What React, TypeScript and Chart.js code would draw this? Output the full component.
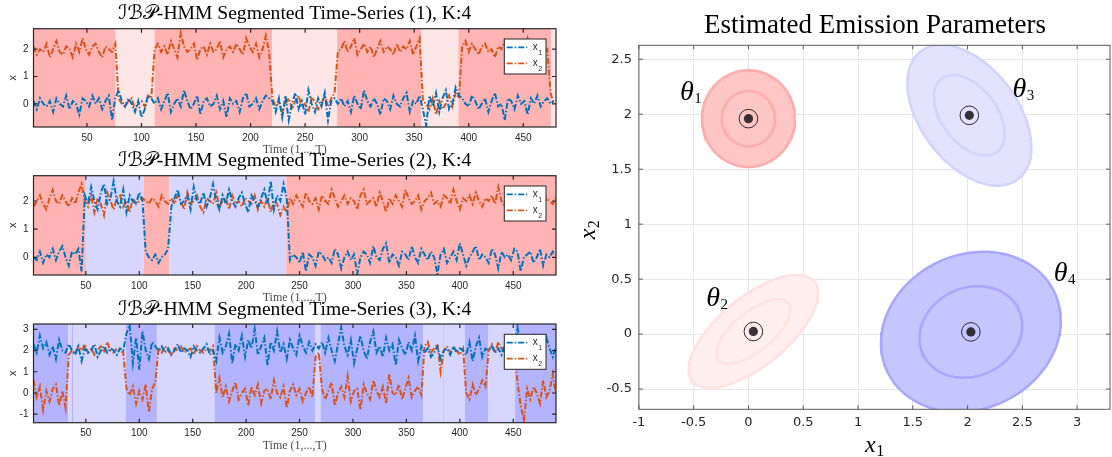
import React, { useEffect, useRef } from "react";
import { Chart, registerables } from "chart.js";
Chart.register(...registerables);

const PAGE_W = 1112;
const PAGE_H = 457;
const SANS = '"Liberation Sans", Arial, sans-serif';
const SANS2 = '"DejaVu Sans", sans-serif';
const SERIF = '"Liberation Serif", "DejaVu Serif", "DejaVu Sans", serif';

const X1_COLOR = "#0072BD";
const X2_COLOR = "#D95319";
const STATE_BG = ["#FFB3B3", "#FFE6E6", "#D6D6FF", "#B3B3FF"];
const SERIES_LABELS = ["x", "x"];
const SERIES_SUBS = ["1", "2"];
const PANEL_TITLES = [
  "ℐℬ𝒫-HMM Segmented Time-Series (1), K:4",
  "ℐℬ𝒫-HMM Segmented Time-Series (2), K:4",
  "ℐℬ𝒫-HMM Segmented Time-Series (3), K:4",
];
const TIME_LABEL = "Time (1,...,T)";
const Y_LABEL = "x";

// sampled every SAMPLE_STEP time steps starting at t = 1
const SAMPLE_STEP = 3;

// ---------- Time series 1 ----------
const P1_T_MAX = 480;
const P1_Y_RANGE = [-0.85, 2.75];
const P1_X1 = [
  0.1,-0.2,0.2,0.0,-0.1,0.1,-0.3,0.2,0.0,-0.1,0.3,-0.2,0.1,0.0,-0.4,0.2,0.1,-0.1,0.3,0.0,0.2,-0.2,0.1,0.3,-0.6,0.2,
  0.5,0.1,-0.1,0.2,0.0,-0.3,0.1,-0.5,-0.2,0.3,0.2,
  0.0,0.2,-0.2,0.1,0.4,-0.3,0.0,0.2,-0.1,0.5,0.1,-0.2,0.0,0.3,-0.4,0.1,0.2,-0.1,0.0,0.3,-0.2,0.1,-0.5,0.2,0.0,0.1,-0.3,0.2,0.4,-0.1,0.0,0.2,-0.2,0.1,0.3,0.2,
  0.1,-0.3,0.2,-0.5,0.3,-0.6,0.0,0.4,-0.2,0.1,-0.4,0.5,0.0,-0.3,0.2,-0.1,0.4,-0.6,0.1,0.2,
  0.0,0.2,-0.1,0.1,-0.3,0.3,0.0,-0.2,0.5,0.1,-0.1,0.2,0.0,-0.4,0.2,0.1,-0.2,0.3,0.0,-0.1,0.2,0.4,-0.3,0.1,0.0,0.3,
  -0.2,-0.8,0.3,-0.1,0.4,-0.3,0.2,0.5,-0.2,0.0,0.6,0.3,
  0.2,0.0,-0.1,0.3,0.1,-0.2,0.0,0.2,-0.3,0.1,0.4,-0.1,0.0,-0.6,0.2,0.1,-0.2,0.3,0.0,0.1,-0.4,0.2,0.0,0.3,-0.1,0.1,0.2,0.0,
  0.1,
];
const P1_X2 = [
  2.1,1.8,2.0,1.9,2.2,1.7,2.0,2.3,1.9,1.8,2.1,2.0,1.7,2.2,1.9,2.4,2.0,1.8,2.1,2.2,1.9,1.7,2.1,2.0,1.9,2.2,
  0.2,0.0,-0.1,0.1,0.2,-0.2,0.0,0.1,-0.1,0.3,0.2,
  2.0,2.2,1.9,2.1,1.8,2.3,2.0,1.7,2.6,2.1,1.9,2.0,2.2,1.6,2.0,2.1,1.8,2.2,1.9,2.0,2.3,1.7,2.0,2.1,1.9,2.2,2.0,1.8,2.4,2.1,1.9,2.2,1.7,2.0,2.5,1.9,
  0.2,-0.1,0.1,-0.3,0.0,0.2,-0.2,0.1,0.3,-0.1,0.0,-0.3,0.2,0.1,-0.2,0.0,0.3,-0.1,0.2,0.4,
  1.9,2.0,2.3,1.9,2.1,2.4,1.8,2.0,2.2,1.9,2.1,1.7,2.0,2.3,1.9,2.1,2.0,1.8,2.2,1.9,2.1,2.0,2.3,1.8,2.1,2.4,
  0.1,0.0,-0.2,0.2,-0.4,0.1,-0.2,0.0,0.3,-0.1,0.4,0.2,
  2.1,2.3,1.9,2.2,2.0,1.8,2.1,2.2,1.9,2.0,1.7,2.1,2.0,2.3,1.9,2.1,1.6,2.0,2.2,1.9,2.4,2.0,1.8,2.1,2.2,1.9,2.0,0.4,
  0.0,
];
const P1_SEG_START = [1, 76.2, 112, 219.8, 279.3, 356.5, 390.5, 475.5];
const P1_SEG_STATE = [0, 1, 0, 1, 0, 1, 0, 1];

// ---------- Time series 2 ----------
const P2_T_MAX = 490;
const P2_Y_RANGE = [-0.63, 2.9];
const P2_X1 = [
  0.0,-0.1,0.2,-0.2,0.1,0.0,0.3,-0.1,0.2,0.4,0.0,-0.3,0.2,0.1,0.3,-0.5,
  2.2,1.9,2.5,2.0,1.7,2.3,2.6,1.9,2.1,2.7,2.0,1.8,2.4,1.6,2.2,2.0,1.9,2.3,2.0,
  0.2,0.0,-0.1,0.1,-0.2,0.0,0.1,0.3,
  1.8,2.1,2.4,1.9,2.0,2.2,1.7,2.5,2.0,1.9,2.3,1.8,2.1,2.6,2.0,1.7,2.2,1.9,2.4,2.0,1.8,2.1,2.3,1.9,1.6,2.2,2.0,1.8,2.1,2.4,1.9,2.7,1.7,2.2,2.0,2.6,2.1,
  -0.1,0.1,0.0,-0.2,0.2,-0.5,0.1,0.0,-0.3,0.2,0.1,-0.1,0.0,-0.2,0.3,0.1,-0.4,0.0,0.2,-0.1,
  0.1,-0.6,0.0,0.2,0.1,-0.2,0.4,0.0,-0.1,0.3,0.5,-0.2,0.1,0.0,-0.3,0.2,0.1,-0.1,0.4,0.0,
  -0.2,0.3,0.1,-0.1,0.2,0.0,-0.6,0.1,0.3,-0.2,0.0,0.2,-0.1,0.5,0.1,-0.3,0.0,0.2,0.4,-0.1,
  0.1,0.0,-0.2,0.3,0.1,-0.4,0.2,0.0,0.1,-0.1,0.3,0.2,-0.5,0.0,0.1,0.2,-0.2,0.0,0.3,-0.3,
  0.1,0.0,0.2,0.1,
];
const P2_X2 = [
  1.8,2.0,2.2,1.9,1.7,2.1,2.4,2.0,1.9,2.2,2.0,1.8,2.1,1.9,2.3,2.6,
  2.0,1.8,2.2,1.6,2.1,1.9,1.5,2.3,2.0,1.7,2.1,2.2,1.8,2.0,1.6,2.1,1.9,2.0,2.1,
  2.0,1.9,2.1,2.0,1.8,2.2,2.0,1.9,
  2.1,1.9,2.2,2.0,1.7,2.3,1.9,2.0,2.2,1.8,1.6,2.1,2.0,1.9,2.3,1.8,2.0,2.1,1.7,2.2,1.9,2.0,1.8,2.1,2.0,1.9,2.2,1.7,2.0,1.8,2.1,1.6,2.0,1.9,1.5,1.8,1.6,
  2.1,1.9,2.2,2.0,1.8,2.3,2.0,1.9,2.1,1.7,2.2,2.0,1.9,2.4,2.1,1.8,2.0,2.2,1.9,2.1,
  2.0,1.7,2.2,2.4,1.9,2.0,2.1,1.8,2.3,2.0,1.6,2.1,1.9,2.2,2.0,1.8,2.4,2.1,1.9,2.0,
  2.2,1.7,2.0,2.1,2.3,1.9,2.0,1.8,2.2,2.1,1.9,2.4,2.0,1.7,2.1,2.0,2.2,1.9,2.3,2.0,
  1.8,2.1,2.0,2.2,1.9,2.5,2.0,1.8,2.1,2.2,1.9,2.0,2.3,1.8,2.0,2.1,1.9,2.2,2.0,1.8,
  2.1,2.0,1.9,2.1,
];
const P2_SEG_START = [1, 50, 104, 128, 237.6];
const P2_SEG_STATE = [0, 2, 0, 2, 0];

// ---------- Time series 3 ----------
const P3_T_MAX = 490;
const P3_Y_RANGE = [-1.4, 3.25];
const P3_X1 = [
  2.3,1.9,2.7,2.1,2.4,1.8,2.2,1.6,2.5,2.0,1.9,
  2.3,2.0,1.8,2.2,1.5,2.1,1.9,2.0,2.3,1.7,2.0,2.2,1.9,2.1,2.0,1.8,2.1,2.0,
  2.8,3.2,1.4,2.6,1.1,2.9,2.0,1.6,2.4,2.2,
  2.0,2.2,1.9,2.1,1.8,2.0,2.3,1.9,2.1,2.0,1.7,2.2,2.0,1.9,2.1,2.3,1.8,2.0,
  1.5,2.6,1.9,2.2,2.8,1.4,2.3,2.0,2.7,1.7,2.5,2.1,3.0,1.8,2.2,2.6,1.3,2.4,2.0,2.9,1.9,2.3,1.6,2.5,2.1,1.8,2.7,2.2,1.9,2.4,2.0,2.3,
  2.1,
  2.4,1.9,2.6,2.0,1.5,2.3,3.1,2.2,1.8,2.5,1.4,2.1,2.7,2.0,1.6,2.4,2.9,1.9,2.2,1.7,2.6,2.0,2.3,1.3,2.5,2.1,1.8,2.4,2.0,2.7,1.5,2.2,
  1.9,2.1,1.7,1.9,2.2,1.6,2.0,2.1,1.8,2.2,1.9,2.1,2.0,
  1.8,2.4,1.5,2.2,2.6,1.7,2.1,
  2.0,2.2,1.9,2.1,1.8,2.3,2.0,1.9,2.1,
  3.1,2.2,1.6,2.5,2.0,2.8,1.5,2.3,1.9,2.6,2.1,1.7,2.2,
];
const P3_X2 = [
  0.6,-0.2,0.3,-0.8,0.1,-0.4,0.2,0.4,-0.6,0.1,-0.7,
  1.8,2.0,1.9,2.2,2.0,2.3,1.9,2.1,1.8,2.0,2.2,1.9,2.4,2.0,1.9,2.1,2.0,1.9,
  0.2,-0.1,0.3,-0.5,0.1,-0.3,0.4,-0.9,0.2,0.5,
  2.1,1.9,2.2,2.0,1.8,2.1,2.0,2.2,1.9,2.0,2.1,1.8,2.2,2.0,1.9,2.1,2.0,2.2,
  0.0,0.7,-0.2,0.3,-0.4,0.1,0.5,-0.3,0.0,0.2,-0.6,0.3,-0.1,0.4,-0.5,0.1,0.2,-0.3,0.6,0.0,-0.2,0.3,-0.7,0.1,0.4,-0.1,0.2,-0.4,0.0,0.3,-0.2,1.7,
  1.9,
  0.2,-0.3,0.1,0.5,-0.6,0.0,0.3,-0.2,0.8,-0.4,0.1,0.2,-0.8,0.4,0.0,-0.3,0.6,0.1,-0.2,0.3,-0.5,0.9,0.0,-0.1,0.4,-0.3,0.2,0.7,-0.2,0.1,0.3,-0.1,
  2.2,2.4,1.9,2.1,2.3,1.0,2.0,2.2,1.9,2.1,2.0,1.8,2.1,
  0.0,-0.3,0.4,-0.1,0.2,0.6,0.3,
  2.0,2.3,1.9,2.4,2.1,1.9,2.2,2.0,1.9,
  0.5,-0.6,-1.3,0.2,-0.3,0.3,0.0,-0.5,0.6,-0.2,0.1,0.9,-0.1,
];
const P3_SEG_START = [1, 33.5, 37, 38, 87.4, 116.5, 170.5, 264.9, 269.6, 366, 384.5, 385.5, 404.7, 426.5, 451.7];
const P3_SEG_STATE = [3, 2, 3, 2, 3, 2, 3, 2, 3, 2, 3, 2, 3, 2, 3];

// ---------- Emission parameters ----------
const EMISSION_TITLE = "Estimated Emission Parameters";
const THETA_NAMES = ["1", "2", "3", "4"];
const THETA_MEANS = [
  [0.0, 1.96],
  [0.045, 0.024],
  [2.016, 1.99],
  [2.03, 0.02],
];
// [sxx, sxy, syy]
const THETA_COVS = [
  [0.0588, 0.0, 0.0633],
  [0.114, 0.0669, 0.0865],
  [0.1045, -0.0536, 0.1339],
  [0.22, 0.0274, 0.1734],
];
const CONTOUR_SIGMAS = [1.0, 1.75];
const THETA_FILL = ["#FFC6C6", "#FFEEEE", "#E3E3FF", "#C5C5FF"];
const THETA_EDGE = ["#FFABAB", "#FFE1E1", "#D3D3FF", "#A7A7FF"];
const THETA_LABEL_POS = [
  [-0.625, 2.13],
  [-0.386, 0.253],
  [2.41, 2.16],
  [2.787, 0.484],
];
const EM_X_RANGE = [-1, 3.3];
const EM_Y_RANGE = [-0.684, 2.627];

// ---------- helpers ----------
function samplePoints(values: number[]) {
  return values.map((v, i) => ({ x: 1 + i * SAMPLE_STEP, y: v }));
}

function ellipsePoints(mean: number[], cov: number[], k: number, n = 140) {
  const [a, b, c] = cov;
  const l11 = Math.sqrt(a);
  const l21 = b / l11;
  const l22 = Math.sqrt(Math.max(c - l21 * l21, 1e-9));
  const pts: { x: number; y: number }[] = [];
  for (let i = 0; i <= n; i++) {
    const t = (2 * Math.PI * i) / n;
    const u = Math.cos(t);
    const v = Math.sin(t);
    pts.push({ x: mean[0] + k * l11 * u, y: mean[1] + k * (l21 * u + l22 * v) });
  }
  return pts;
}

function drawSub(
  ctx: CanvasRenderingContext2D,
  main: string,
  sub: string,
  x: number,
  y: number,
  mainFont: string,
  subFont: string,
  drop: number,
  align: "left" | "center"
) {
  ctx.font = mainFont;
  const w1 = ctx.measureText(main).width;
  ctx.font = subFont;
  const w2 = ctx.measureText(sub).width;
  const x0 = align === "center" ? x - (w1 + w2) / 2 : x;
  ctx.textAlign = "left";
  ctx.textBaseline = "alphabetic";
  ctx.font = mainFont;
  ctx.fillText(main, x0, y);
  ctx.font = subFont;
  ctx.fillText(sub, x0 + w1 + 0.5, y + drop);
}

function drawInwardTicks(chart: any, len: number, color: string, width: number) {
  const { ctx, chartArea: a, scales } = chart;
  ctx.save();
  ctx.strokeStyle = color;
  ctx.lineWidth = width;
  ctx.beginPath();
  for (const t of scales.x.ticks) {
    const px = scales.x.getPixelForValue(t.value);
    ctx.moveTo(px, a.bottom);
    ctx.lineTo(px, a.bottom - len);
    ctx.moveTo(px, a.top);
    ctx.lineTo(px, a.top + len);
  }
  for (const t of scales.y.ticks) {
    const py = scales.y.getPixelForValue(t.value);
    ctx.moveTo(a.left, py);
    ctx.lineTo(a.left + len, py);
    ctx.moveTo(a.right, py);
    ctx.lineTo(a.right - len, py);
  }
  ctx.stroke();
  ctx.strokeRect(a.left, a.top, a.right - a.left, a.bottom - a.top);
  ctx.restore();
}

type PanelCfg = {
  idx: number;
  frame: { left: number; top: number; right: number; bottom: number };
  tMax: number;
  yRange: number[];
  x1: number[];
  x2: number[];
  segStart: number[];
  segState: number[];
  title: string;
};

const PANELS: PanelCfg[] = [
  { idx: 0, frame: { left: 33.5, top: 28.7, right: 556, bottom: 127 }, tMax: P1_T_MAX, yRange: P1_Y_RANGE, x1: P1_X1, x2: P1_X2, segStart: P1_SEG_START, segState: P1_SEG_STATE, title: PANEL_TITLES[0] },
  { idx: 1, frame: { left: 33.5, top: 175.7, right: 556, bottom: 275 }, tMax: P2_T_MAX, yRange: P2_Y_RANGE, x1: P2_X1, x2: P2_X2, segStart: P2_SEG_START, segState: P2_SEG_STATE, title: PANEL_TITLES[1] },
  { idx: 2, frame: { left: 33.5, top: 324, right: 556, bottom: 422.7 }, tMax: P3_T_MAX, yRange: P3_Y_RANGE, x1: P3_X1, x2: P3_X2, segStart: P3_SEG_START, segState: P3_SEG_STATE, title: PANEL_TITLES[2] },
];

const DASH = [6, 2, 1.5, 2];
const Y_AXIS_W = 30;
const X_AXIS_H = 24;

function makeSeriesChart(canvas: HTMLCanvasElement, p: PanelCfg) {
  const plugin = {
    id: "seriesDecor" + p.idx,
    beforeDatasetsDraw(chart: any) {
      const { ctx, chartArea: a, scales } = chart;
      ctx.save();
      for (let k = 0; k < p.segStart.length; k++) {
        const s = p.segStart[k];
        const e = k + 1 < p.segStart.length ? p.segStart[k + 1] : p.tMax;
        const x0 = scales.x.getPixelForValue(s);
        const x1 = scales.x.getPixelForValue(e);
        ctx.fillStyle = STATE_BG[p.segState[k]];
        ctx.fillRect(x0, a.top, x1 - x0, a.bottom - a.top);
      }
      ctx.restore();
    },
    afterDraw(chart: any) {
      const { ctx, chartArea: a } = chart;
      drawInwardTicks(chart, 4, "#262626", 1.2);
      ctx.save();
      const base = 17;
      ctx.font = `${base}px ${SERIF}`;
      const w = ctx.measureText(p.title).width;
      const size = Math.max(base * 0.8, Math.min(base * 1.3, (base * 353) / w));
      ctx.font = `${size}px ${SERIF}`;
      ctx.fillStyle = "#000";
      ctx.textAlign = "center";
      ctx.textBaseline = "alphabetic";
      const cx = (a.left + a.right) / 2;
      ctx.fillText(p.title, cx, a.top - 9.5);
      ctx.font = `12px ${SERIF}`;
      ctx.fillStyle = "#4d4d4d";
      ctx.textBaseline = "middle";
      ctx.fillText(TIME_LABEL, cx, a.bottom + 23);
      ctx.save();
      ctx.translate(12.7, (a.top + a.bottom) / 2);
      ctx.rotate(-Math.PI / 2);
      ctx.font = `11px ${SANS}`;
      ctx.fillStyle = "#262626";
      ctx.textAlign = "center";
      ctx.textBaseline = "middle";
      ctx.fillText(Y_LABEL, 0, 0);
      ctx.restore();
      const lx = 504.3;
      const ly = a.top + 10.3;
      ctx.fillStyle = "#fff";
      ctx.fillRect(lx, ly, 41.7, 35);
      ctx.strokeStyle = "#262626";
      ctx.lineWidth = 1;
      ctx.strokeRect(lx, ly, 41.7, 35);
      const colors = [X1_COLOR, X2_COLOR];
      for (let k = 0; k < 2; k++) {
        const yy = ly + 8.3 + k * 16;
        ctx.strokeStyle = colors[k];
        ctx.lineWidth = 1.8;
        ctx.setLineDash(DASH);
        ctx.beginPath();
        ctx.moveTo(lx + 2.4, yy);
        ctx.lineTo(lx + 23, yy);
        ctx.stroke();
        ctx.setLineDash([]);
        ctx.fillStyle = "#262626";
        drawSub(ctx, SERIES_LABELS[k], SERIES_SUBS[k], lx + 28.4, yy + 2.6, `10px ${SANS}`, `7px ${SANS}`, 5, "left");
      }
      ctx.restore();
    },
  };

  return new Chart(canvas, {
    type: "line",
    data: {
      datasets: [
        { label: "x1", data: samplePoints(p.x1), borderColor: X1_COLOR, borderWidth: 2, borderDash: DASH, pointRadius: 0, fill: false, tension: 0 },
        { label: "x2", data: samplePoints(p.x2), borderColor: X2_COLOR, borderWidth: 2, borderDash: DASH, pointRadius: 0, fill: false, tension: 0 },
      ],
    },
    options: {
      animation: false,
      responsive: false,
      devicePixelRatio: 1,
      events: [],
      layout: {
        autoPadding: false,
        padding: {
          left: p.frame.left - Y_AXIS_W,
          top: p.frame.top,
          right: PAGE_W - p.frame.right,
          bottom: PAGE_H - p.frame.bottom - X_AXIS_H,
        },
      },
      plugins: { legend: { display: false }, title: { display: false }, tooltip: { enabled: false } },
      scales: {
        x: {
          type: "linear",
          min: 1,
          max: p.tMax,
          afterFit: (s: any) => { s.height = X_AXIS_H; },
          grid: { display: false, drawTicks: false },
          border: { display: false },
          ticks: { stepSize: 50, includeBounds: false, autoSkip: false, maxRotation: 0, minRotation: 0, padding: 5, color: "#262626", font: { family: SANS, size: 10 }, callback: (v: any) => String(v) },
        },
        y: {
          type: "linear",
          min: p.yRange[0],
          max: p.yRange[1],
          afterFit: (s: any) => { s.width = Y_AXIS_W; },
          grid: { display: false, drawTicks: false },
          border: { display: false },
          ticks: { stepSize: 1, includeBounds: false, padding: 5, color: "#262626", font: { family: SANS, size: 10 }, callback: (v: any) => String(v) },
        },
      },
    } as any,
    plugins: [plugin],
  });
}

const EM_Y_AXIS_W = 60;
const EM_X_AXIS_H = 30;

function makeEmissionChart(canvas: HTMLCanvasElement) {
  const frame = { left: 638.9, top: 45.3, right: 1110, bottom: 409.3 };
  const datasets: any[] = [];
  THETA_MEANS.forEach((m, i) => {
    datasets.push({
      data: ellipsePoints(m, THETA_COVS[i], CONTOUR_SIGMAS[1]),
      showLine: true,
      fill: "shape",
      backgroundColor: THETA_FILL[i],
      borderColor: THETA_EDGE[i],
      borderWidth: 2.5,
      pointRadius: 0,
      tension: 0,
      order: 4,
    });
    datasets.push({
      data: ellipsePoints(m, THETA_COVS[i], CONTOUR_SIGMAS[0]),
      showLine: true,
      fill: false,
      borderColor: THETA_EDGE[i],
      borderWidth: 2.5,
      pointRadius: 0,
      tension: 0,
      order: 3,
    });
  });
  const meanPts = THETA_MEANS.map(([x, y]) => ({ x, y }));
  datasets.push({ data: meanPts, showLine: false, pointRadius: 9.3, pointBackgroundColor: "rgba(0,0,0,0)", pointBorderColor: "#2a2a2a", pointBorderWidth: 1, order: 1 });
  datasets.push({ data: meanPts, showLine: false, pointRadius: 4.6, pointBackgroundColor: "rgba(30,24,28,0.88)", pointBorderWidth: 0, order: 0 });

  const plugin = {
    id: "emissionDecor",
    afterDraw(chart: any) {
      const { ctx, chartArea: a, scales } = chart;
      drawInwardTicks(chart, 4, "#5a5a5a", 1);
      ctx.save();
      ctx.fillStyle = "#000";
      ctx.font = `27px ${SERIF}`;
      ctx.textAlign = "center";
      ctx.textBaseline = "alphabetic";
      ctx.fillText(EMISSION_TITLE, 875, 33);
      THETA_LABEL_POS.forEach(([x, y], i) => {
        const px = scales.x.getPixelForValue(x);
        const py = scales.y.getPixelForValue(y);
        drawSub(ctx, "θ", THETA_NAMES[i], px, py, `italic 28px ${SERIF}`, `15px ${SERIF}`, 3, "left");
      });
      drawSub(ctx, "x", "1", (a.left + a.right) / 2, 452, `italic 24px ${SERIF}`, `16px ${SERIF}`, 4, "center");
      ctx.save();
      ctx.translate(595, 230);
      ctx.rotate(-Math.PI / 2);
      drawSub(ctx, "x", "2", 0, 0, `italic 24px ${SERIF}`, `16px ${SERIF}`, 4, "center");
      ctx.restore();
      ctx.restore();
    },
  };

  const fmt = (v: any) => String(Number(Number(v).toFixed(2)));
  return new Chart(canvas, {
    type: "scatter",
    data: { datasets },
    options: {
      animation: false,
      responsive: false,
      devicePixelRatio: 1,
      events: [],
      layout: {
        autoPadding: false,
        padding: {
          left: frame.left - EM_Y_AXIS_W,
          top: frame.top,
          right: PAGE_W - frame.right,
          bottom: PAGE_H - frame.bottom - EM_X_AXIS_H,
        },
      },
      plugins: { legend: { display: false }, title: { display: false }, tooltip: { enabled: false } },
      scales: {
        x: {
          type: "linear",
          min: EM_X_RANGE[0],
          max: EM_X_RANGE[1],
          afterFit: (s: any) => { s.height = EM_X_AXIS_H; },
          grid: { color: "#E6E6E6", lineWidth: 1, drawTicks: false },
          border: { display: false },
          ticks: { stepSize: 0.5, includeBounds: false, autoSkip: false, maxRotation: 0, minRotation: 0, padding: 6, color: "#262626", font: { family: SANS2, size: 13 }, callback: fmt },
        },
        y: {
          type: "linear",
          min: EM_Y_RANGE[0],
          max: EM_Y_RANGE[1],
          afterFit: (s: any) => { s.width = EM_Y_AXIS_W; },
          grid: { color: "#E6E6E6", lineWidth: 1, drawTicks: false },
          border: { display: false },
          ticks: { stepSize: 0.5, includeBounds: false, padding: 7, color: "#262626", font: { family: SANS2, size: 13 }, callback: fmt },
        },
      },
    } as any,
    plugins: [plugin],
  });
}

export default function App() {
  const r1 = useRef<HTMLCanvasElement>(null);
  const r2 = useRef<HTMLCanvasElement>(null);
  const r3 = useRef<HTMLCanvasElement>(null);
  const r4 = useRef<HTMLCanvasElement>(null);

  useEffect(() => {
    const charts = [
      makeSeriesChart(r1.current!, PANELS[0]),
      makeSeriesChart(r2.current!, PANELS[1]),
      makeSeriesChart(r3.current!, PANELS[2]),
      makeEmissionChart(r4.current!),
    ];
    return () => charts.forEach((c) => c.destroy());
  }, []);

  const cs: React.CSSProperties = { position: "absolute", left: 0, top: 0, width: PAGE_W, height: PAGE_H };
  return (
    <div style={{ position: "fixed", left: 0, top: 0, width: PAGE_W, height: PAGE_H, background: "#fff", overflow: "hidden" }}>
      <canvas ref={r1} width={PAGE_W} height={PAGE_H} style={cs} />
      <canvas ref={r2} width={PAGE_W} height={PAGE_H} style={cs} />
      <canvas ref={r3} width={PAGE_W} height={PAGE_H} style={cs} />
      <canvas ref={r4} width={PAGE_W} height={PAGE_H} style={cs} />
    </div>
  );
}
